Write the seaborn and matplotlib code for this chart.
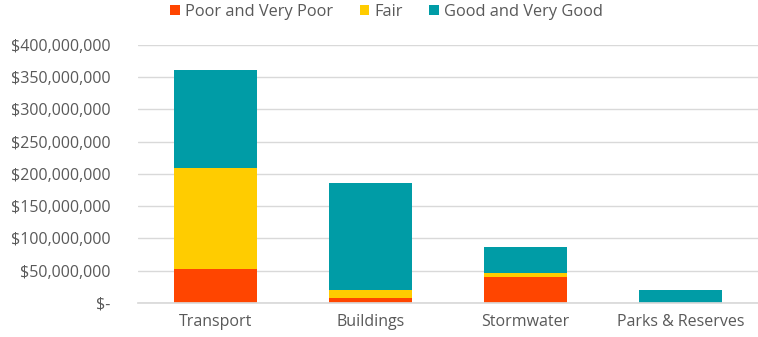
import matplotlib
matplotlib.use("Agg")
import matplotlib.pyplot as plt
import matplotlib.ticker as mticker
from matplotlib.patches import Patch
import seaborn as sns
import pandas as pd
import numpy as np

categories = ["Transport", "Buildings", "Stormwater", "Parks & Reserves"]
poor = [52e6, 8e6, 40e6, 0.0]
fair = [157e6, 12.5e6, 7e6, 0.0]
good = [152e6, 165.5e6, 40e6, 20.5e6]
series_names = ["Poor and Very Poor", "Fair", "Good and Very Good"]
colors = ["#FF4500", "#FFCC00", "#009CA6"]

sns.set_theme(style="white")
plt.rcParams["font.family"] = ["Open Sans", "DejaVu Sans"]

fig = plt.figure(figsize=(7.58, 3.37), dpi=100)
ax = fig.add_axes([0.182, 0.101, 0.818, 0.766])

p = np.array(poor)
f = np.array(fair)
g = np.array(good)
layers = [(p + f + g, colors[2]), (p + f, colors[1]), (p, colors[0])]
for vals, col in layers:
    df = pd.DataFrame({"cat": categories, "val": vals})
    sns.barplot(data=df, x="cat", y="val", color=col, width=0.53,
                saturation=1, ax=ax, errorbar=None, linewidth=0)

ax.set_ylim(0, 400e6)
ax.set_xlim(-0.5, 3.5)
ax.yaxis.set_major_locator(mticker.MultipleLocator(50e6))

def fmt(v, pos):
    if abs(v) < 1:
        return "$-"
    return "${:,.0f}".format(v)

ax.yaxis.set_major_formatter(mticker.FuncFormatter(fmt))
ax.grid(axis="y", color="#D9D9D9", linewidth=1)
ax.set_axisbelow(True)
for s in ["top", "right", "left"]:
    ax.spines[s].set_visible(False)
ax.spines["bottom"].set_color("#D9D9D9")
ax.tick_params(axis="both", length=0, labelsize=11.5, colors="#595959")
ax.tick_params(axis="y", pad=20)
ax.tick_params(axis="x", pad=8)
ax.set_xlabel("")
ax.set_ylabel("")

handles = [Patch(facecolor=c, edgecolor="none") for c in colors]
fig.legend(handles, series_names, loc="center", bbox_to_anchor=(0.51, 0.965),
           ncol=3, frameon=False, fontsize=11.8, handlelength=0.6,
           handleheight=0.6, handletextpad=0.3, columnspacing=1.6,
           labelcolor="#595959")

fig.savefig("out.png", dpi=100)
